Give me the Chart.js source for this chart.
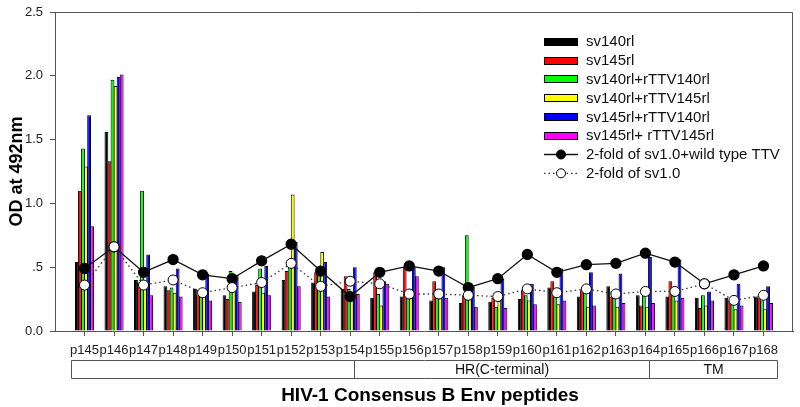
<!DOCTYPE html>
<html>
<head>
<meta charset="utf-8">
<script src="https://cdn.jsdelivr.net/npm/chart.js@4.4.1/dist/chart.umd.min.js"></script>
<style>
  html, body { margin: 0; padding: 0; background: #fff; }
  #wrap { width: 800px; height: 407px; }
</style>
</head>
<body>
<div id="wrap"><canvas id="myChart"></canvas></div>
<script>
// peptides on the x axis
var categories = ['p145','p146','p147','p148','p149','p150','p151','p152','p153','p154','p155','p156',
                  'p157','p158','p159','p160','p161','p162','p163','p164','p165','p166','p167','p168'];

var sv140rl      = [0.54,1.56,0.40,0.35,0.33,0.28,0.31,0.40,0.38,0.33,0.26,0.27,0.24,0.22,0.23,0.25,0.34,0.27,0.35,0.28,0.27,0.26,0.26,0.27];
var sv145rl      = [1.10,1.33,0.38,0.32,0.28,0.25,0.36,0.47,0.46,0.43,0.46,0.50,0.39,0.28,0.26,0.32,0.39,0.32,0.27,0.20,0.39,0.18,0.24,0.26];
var sv140_ttv140 = [1.43,1.97,1.10,0.34,0.28,0.47,0.49,0.50,0.48,0.33,0.29,0.27,0.26,0.75,0.19,0.28,0.28,0.30,0.26,0.29,0.28,0.28,0.22,0.24];
var sv140_ttv145 = [1.29,1.92,0.36,0.30,0.28,0.41,0.30,1.07,0.62,0.30,0.20,0.26,0.26,0.28,0.24,0.24,0.21,0.19,0.19,0.19,0.24,0.20,0.17,0.17];
var sv145_ttv140 = [1.69,1.99,0.60,0.49,0.45,0.44,0.51,0.70,0.54,0.50,0.39,0.50,0.50,0.35,0.41,0.37,0.49,0.46,0.45,0.58,0.56,0.31,0.37,0.35];
var sv145_ttv145 = [0.82,2.01,0.28,0.27,0.24,0.23,0.28,0.35,0.27,0.29,0.37,0.43,0.26,0.19,0.18,0.21,0.24,0.20,0.22,0.22,0.26,0.24,0.20,0.22];

// cut-off lines
var cutoffWild = [0.49,0.66,0.46,0.56,0.44,0.41,0.55,0.68,0.47,0.27,0.46,0.51,0.47,0.34,0.41,0.60,0.46,0.52,0.53,0.61,0.54,0.37,0.44,0.51];
var cutoffSv10 = [0.36,0.66,0.36,0.40,0.30,0.34,0.38,0.53,0.35,0.39,0.37,0.29,0.29,0.28,0.27,0.33,0.30,0.33,0.29,0.31,0.31,0.37,0.24,0.28];

var yTicks = [0, 0.5, 1.0, 1.5, 2.0, 2.5];

// region boxes under the tick labels
var regionLabels = ['', 'HR(C-terminal)', 'TM'];
var regionEdges = [0.54, 10.13, 20.12, 24.46];

var axisColor = '#555';

function pts(arr) {
  return arr.map(function(v, i) { return { x: i + 1, y: v }; });
}

function barSet(label, color, arr) {
  return {
    type: 'bar', label: label, data: pts(arr),
    backgroundColor: color, borderColor: '#000', borderWidth: 1,
    categoryPercentage: 0.62, barPercentage: 1.25, order: 2
  };
}

var datasets = [
  barSet('sv140rl', '#000000', sv140rl),
  barSet('sv145rl', '#ff0000', sv145rl),
  barSet('sv140rl+rTTV140rl', '#00ff00', sv140_ttv140),
  barSet('sv140rl+rTTV145rl', '#ffff00', sv140_ttv145),
  barSet('sv145rl+rTTV140rl', '#0000ff', sv145_ttv140),
  barSet('sv145rl+ rTTV145rl', '#ff00ff', sv145_ttv145),
  {
    type: 'line', label: '2-fold of sv1.0+wild type TTV', data: pts(cutoffWild),
    borderColor: '#111', borderWidth: 1.3, pointRadius: 5,
    pointBackgroundColor: '#000', pointBorderColor: '#000', order: 1
  },
  {
    type: 'line', label: '2-fold of sv1.0', data: pts(cutoffSv10),
    borderColor: '#333', borderWidth: 1.3, borderDash: [1.5, 3], pointRadius: 5,
    pointBackgroundColor: '#fff', pointBorderColor: '#000', pointBorderWidth: 1, order: 0
  }
];

var extras = {
  id: 'extras',
  afterDraw: function(chart) {
    var ctx = chart.ctx, a = chart.chartArea, xs = chart.scales.x;
    ctx.save();

    // top and right frame
    ctx.strokeStyle = axisColor;
    ctx.lineWidth = 1;
    ctx.beginPath();
    ctx.moveTo(a.left, a.top + 0.5);
    ctx.lineTo(a.right - 0.5, a.top + 0.5);
    ctx.lineTo(a.right - 0.5, a.bottom);
    ctx.stroke();

    // region boxes
    var bTop = a.bottom + 29.5, bBot = a.bottom + 47.5;
    var ex = regionEdges.map(function(v) { return Math.round(xs.getPixelForValue(v)) + 0.5; });
    ctx.beginPath();
    ctx.moveTo(ex[0], bTop); ctx.lineTo(ex[ex.length - 1], bTop);
    ctx.moveTo(ex[0], bBot); ctx.lineTo(ex[ex.length - 1], bBot);
    ex.forEach(function(px) { ctx.moveTo(px, bTop); ctx.lineTo(px, bBot); });
    ctx.stroke();
    ctx.fillStyle = '#111';
    ctx.font = '14px "Liberation Sans", Arial, sans-serif';
    ctx.textAlign = 'center';
    ctx.textBaseline = 'middle';
    regionLabels.forEach(function(t, i) {
      if (t) ctx.fillText(t, (ex[i] + ex[i + 1]) / 2, (bTop + bBot) / 2 + 1);
    });

    // x title
    ctx.font = 'bold 19px "Liberation Sans", Arial, sans-serif';
    ctx.textBaseline = 'alphabetic';
    ctx.fillStyle = '#000';
    ctx.fillText('HIV-1 Consensus B Env peptides', (a.left + a.right) / 2 + 6, 401);

    // legend
    ctx.font = '15px "Liberation Sans", Arial, sans-serif';
    ctx.textAlign = 'left';
    ctx.textBaseline = 'middle';
    var lx = 544, lw = 34, ly = 41.7, step = 18.8;
    chart.data.datasets.forEach(function(ds, i) {
      var y = ly + i * step;
      if (ds.type === 'bar') {
        ctx.fillStyle = ds.backgroundColor;
        ctx.fillRect(lx, Math.round(y - 4), lw, 8);
        ctx.strokeStyle = '#000';
        ctx.lineWidth = 1;
        ctx.strokeRect(lx + 0.5, Math.round(y - 4) + 0.5, lw - 1, 7);
      } else {
        ctx.strokeStyle = ds.borderColor;
        ctx.lineWidth = ds.borderWidth;
        ctx.setLineDash(ds.borderDash || []);
        ctx.beginPath();
        ctx.moveTo(lx, y); ctx.lineTo(lx + lw, y);
        ctx.stroke();
        ctx.setLineDash([]);
        ctx.beginPath();
        ctx.arc(lx + lw / 2, y, 4.5, 0, Math.PI * 2);
        ctx.fillStyle = ds.pointBackgroundColor;
        ctx.fill();
        ctx.strokeStyle = '#000';
        ctx.lineWidth = 1;
        ctx.stroke();
      }
      ctx.fillStyle = '#111';
      ctx.fillText(ds.label, 586, y + 0.5);
    });
    ctx.restore();
  }
};

var config = {
  type: 'bar',
  data: { datasets: datasets },
  options: {
    responsive: true,
    maintainAspectRatio: false,
    animation: false,
    layout: { padding: { top: 12, right: 7, left: 0, bottom: 0 } },
    plugins: { legend: { display: false }, tooltip: { enabled: false } },
    scales: {
      x: {
        type: 'linear',
        min: 0, max: 25,
        offset: false,
        afterBuildTicks: function(axis) {
          axis.ticks = categories.map(function(c, i) { return { value: i + 1 }; });
        },
        afterFit: function(axis) { axis.height = 76; },
        ticks: {
          autoSkip: false, maxRotation: 0, minRotation: 0,
          color: '#222', padding: 7,
          font: { family: '"Liberation Sans", Arial, sans-serif', size: 13 },
          callback: function(v) { return categories[v - 1] || ''; }
        },
        grid: { drawOnChartArea: false, drawTicks: true, tickLength: 5, color: axisColor, offset: false },
        border: { display: true, color: axisColor }
      },
      y: {
        min: 0, max: 2.5,
        afterBuildTicks: function(axis) {
          axis.ticks = yTicks.map(function(v) { return { value: v }; });
        },
        afterFit: function(axis) { axis.width = 55; axis.paddingTop = 0; axis.paddingBottom = 0; },
        ticks: {
          color: '#222', padding: 7,
          font: { family: '"Liberation Sans", Arial, sans-serif', size: 13 },
          callback: function(v) { return v === 0.5 ? '.5' : v.toFixed(1); }
        },
        grid: { drawOnChartArea: false, drawTicks: true, tickLength: 5, color: axisColor },
        border: { display: true, color: axisColor },
        title: {
          display: true, text: 'OD at 492nm', color: '#000',
          padding: { top: 6, bottom: 0 },
          font: { family: '"Liberation Sans", Arial, sans-serif', size: 18, weight: 'bold' }
        }
      }
    }
  },
  plugins: [extras]
};

var myChart = new Chart(document.getElementById('myChart'), config);
</script>
</body>
</html>
